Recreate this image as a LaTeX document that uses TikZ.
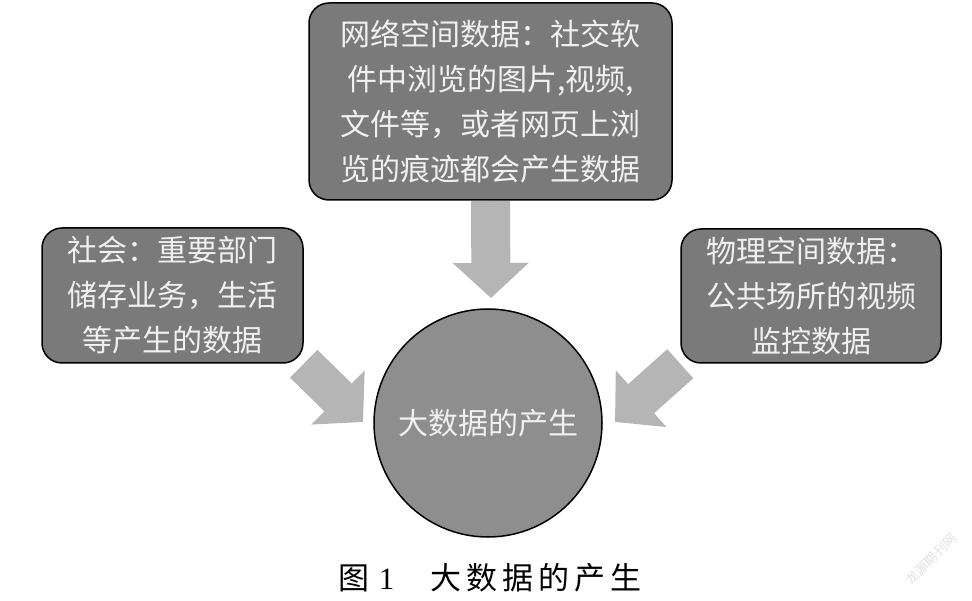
\documentclass[tikz,border=0pt]{standalone}
\usepackage{fontspec}
\setmainfont{Liberation Serif}
\newfontfamily\cjk{Noto Sans CJK SC}
\usetikzlibrary{arrows.meta,backgrounds}

\definecolor{boxgray}{HTML}{7A7A7A}
\definecolor{circgray}{HTML}{8E8E8E}
\definecolor{arrgray}{HTML}{B5B5B5}

\begin{document}
\begin{tikzpicture}[x=1pt,y=1pt,
  srcbox/.style={draw=black,line width=1.5pt,fill=boxgray,rounded corners=20pt,
    text=white!94!black,align=center,inner sep=0pt,
    font=\cjk\fontsize{30}{45}\selectfont},
  bigarrow/.style={arrgray,line width=39pt,
    -{Triangle[length=35pt 0,width=74pt 0]}}]
  \useasboundingbox (0,0) rectangle (972,600);
  % sources of data
  \node[srcbox,minimum width=363pt,minimum height=197pt] (net) at (490.5,498.5)
    {网络空间数据：社交软\\件中浏览的图片,视频,\\文件等，或者网页上浏\\览的痕迹都会产生数据};
  \node[srcbox,minimum width=261pt,minimum height=135pt] (soc) at (172.5,304.5)
    {社会：重要部门\\储存业务，生活\\等产生的数据};
  \node[srcbox,minimum width=260pt,minimum height=134pt] (phy) at (811,304)
    {物理空间数据：\\公共场所的视频\\监控数据};
  % the centre
  \node[circle,draw=black,line width=1.5pt,fill=circgray,minimum size=228pt,
    text=white!94!black,font=\cjk\fontsize{30}{36}\selectfont] (gen) at (488,177)
    {大数据的产生};
  \coordinate (ttip) at (491,302);
  \coordinate (ltip) at (363,178);
  \coordinate (rtip) at (615,178);
  \begin{scope}[on background layer]
    \draw[bigarrow] (net.south) -- (ttip);
    \draw[bigarrow] (soc.south east) -- (ltip);
    \draw[bigarrow] (phy.south west) -- (rtip);
  \end{scope}
  % caption
  \node[font=\fontsize{31}{34}\selectfont] (cap) at (490,22)
    {{\cjk 图}\hspace{9pt}1\hspace{36pt}{\cjk 大\hspace{5pt}数\hspace{5pt}据\hspace{5pt}的\hspace{5pt}产\hspace{5pt}生}};
  \node[rotate=45,text=black!12,font=\cjk\fontsize{13}{14}\selectfont] (wm) at (931,41)
    {龙源期刊网};
\end{tikzpicture}
\end{document}
